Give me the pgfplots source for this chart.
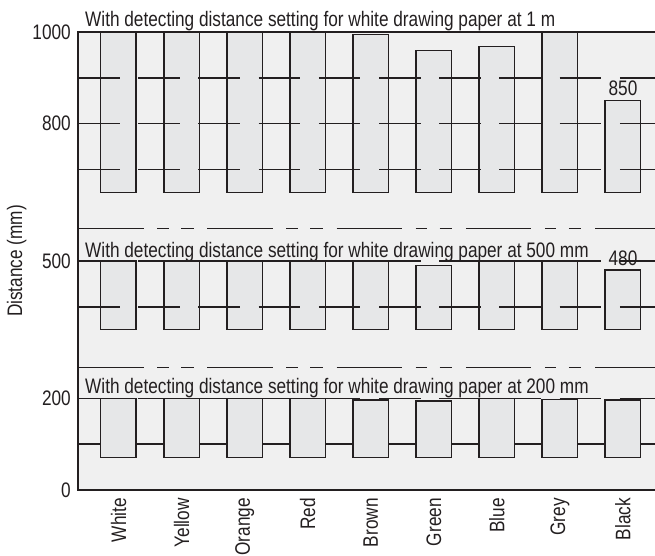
\documentclass[border=0pt]{standalone}
\usepackage{fontspec}
\setmainfont{Liberation Sans}
\newfontfamily\condfont{Liberation Sans}[FakeStretch=0.82]
\usepackage{pgfplots}
\pgfplotsset{compat=1.18}

\definecolor{bgfill}{RGB}{240,240,240}
\definecolor{barfill}{RGB}{230,231,232}
\definecolor{ink}{RGB}{35,31,32}

\newcommand{\lbl}{\condfont\fontsize{21bp}{25bp}\selectfont}

\tikzset{
  breakline/.style={ink, line width=1.5bp,
    dash pattern=on 65.5bp off 13.5bp on 11.5bp off 12.5bp on 12.5bp off 13.8bp},
}
\pgfplotsset{
  panel/.style={
    scale only axis, width=582bp, anchor=south west,
    xmin=-0.6422, xmax=8.587,
    axis line style={draw=none}, xtick=\empty, yticklabels={},
    major tick length=0pt, tick style={draw=none},
    ymajorgrids, axis on top,
    major grid style={ink, line width=1.5bp, dash pattern=on 41.5bp off 18.7bp},
    /pgf/number format/assume math mode=true,
  },
  bars/.style={ybar, bar width=35.5bp, bar shift=0pt, fill=barfill, draw=ink, line width=1.5bp},
  lab/.style={bars, nodes near coords,
    every node near coord/.append style={font=\lbl, text=ink, inner sep=0pt, yshift=4bp}},
}

\begin{document}
\begin{tikzpicture}
\useasboundingbox (0,0) rectangle (655bp,556bp);

% frame, ticks, labels, break marks
\begin{axis}[
  at={(78bp,66bp)}, anchor=south west, scale only axis,
  width=582bp, height=458bp,
  xmin=-0.6422, xmax=8.587, ymin=0, ymax=1000,
  axis background/.style={fill=bgfill},
  axis line style={ink, line width=2.2bp},
  ytick={0,200,500,800,1000}, yticklabels={0,200,500,800,1000},
  xtick={0,...,8},
  xticklabels={White,Yellow,Orange,Red,Brown,Green,Blue,Grey,Black},
  major tick length=0pt, tick style={draw=none},
  ticklabel style={font=\lbl, text=ink, inner sep=0pt},
  yticklabel style={xshift=-7bp},
  xticklabel style={yshift=-8bp, rotate=90, anchor=east},
  every axis y label/.style={at={(rel axis cs:0,0.5)}, xshift=-61.3bp,
    rotate=90, anchor=center, font=\lbl, text=ink},
  ylabel={Distance (mm)},
  clip=false,
]
\draw[breakline] (rel axis cs:0,0.5714) -- (rel axis cs:1,0.5714);
\draw[breakline] (rel axis cs:0,0.267) -- (rel axis cs:1,0.267);
\node[anchor=base west, font=\lbl, text=ink, inner sep=0pt] at (axis cs:-0.531,1011)
  {With detecting distance setting for white drawing paper at 1 m};
\node[anchor=base west, font=\lbl, text=ink, inner sep=0pt] at (axis cs:-0.531,508.7)
  {With detecting distance setting for white drawing paper at 500 mm};
\node[anchor=base west, font=\lbl, text=ink, inner sep=0pt] at (axis cs:-0.531,210.7)
  {With detecting distance setting for white drawing paper at 200 mm};
\end{axis}

% 1 m
\begin{axis}[panel, at={(78bp,363.7bp)}, height=164.88bp,
  ymin=650, ymax=1010, ytick={700,800,900}]
\addplot[bars] coordinates {(0,1000) (1,1000) (2,1000) (3,1000) (4,995) (5,960) (6,968) (7,1000)};
\addplot[lab] coordinates {(8,850)};
\end{axis}

% 500 mm
\begin{axis}[panel, at={(78bp,226.3bp)}, height=96.18bp,
  ymin=350, ymax=560, ytick={400,500}]
\addplot[bars] coordinates {(0,500) (1,500) (2,500) (3,500) (4,500) (5,490) (6,500) (7,500)};
\addplot[lab] coordinates {(8,480)};
\end{axis}

% 200 mm: grid lies behind the bars here
\begin{axis}[panel, axis on top=false, at={(78bp,98.06bp)}, height=87.02bp,
  ymin=70, ymax=260, ytick={200},
  extra y ticks={100}, extra y tick labels={},
  extra tick style={ymajorgrids, major grid style={ink, line width=1.5bp, solid}}]
\addplot[bars] coordinates {(0,200) (1,200) (2,200) (3,200) (4,196) (5,194) (6,200) (7,198) (8,197)};
\end{axis}
\end{tikzpicture}
\end{document}
